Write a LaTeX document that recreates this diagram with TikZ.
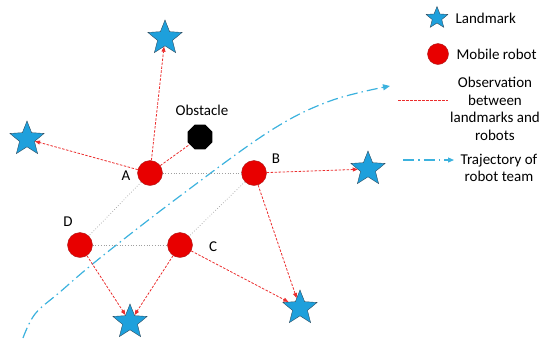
\documentclass[tikz,border=0pt]{standalone}
\usepackage{fontspec}
\setmainfont{Carlito}
\usepackage{xcolor}
\usepackage{tikz}
\usetikzlibrary{arrows.meta,positioning,calc,shapes.geometric}

\definecolor{lmblue}{RGB}{30,160,220}
\definecolor{lmedge}{RGB}{45,75,95}
\definecolor{robred}{RGB}{232,0,0}
\definecolor{robedge}{RGB}{170,25,25}
\definecolor{obsred}{RGB}{235,45,45}
\definecolor{trajblue}{RGB}{60,178,222}

\begin{document}
\begin{tikzpicture}[x=1pt,y=-1pt,
    landmark/.style={star,star points=5,star point ratio=2.3,draw=lmedge,
      fill=lmblue,minimum size=36pt,inner sep=0pt},
    robot/.style={circle,draw=robedge,fill=robred,minimum size=25pt,inner sep=0pt},
    obsline/.style={draw=obsred,line width=0.8pt,dash pattern=on 2.5pt off 1.5pt},
    obsarrow/.style={obsline,-{Triangle[length=5pt,width=4pt]}},
    link/.style={draw=gray!75,line width=0.7pt,dotted},
    traj/.style={draw=trajblue,line width=1.2pt,
      dash pattern=on 11pt off 4pt on 1.5pt off 4pt},
    lbl/.style={font=\fontsize{15}{17.5}\selectfont,align=center}
  ]
    \useasboundingbox (0,0) rectangle (541,341);

    % trajectory of the team
    \draw[traj,-{Triangle[length=7pt,width=6pt]}] plot[smooth,tension=0.6]
      coordinates {(23,338) (35,314) (60,292) (100,258) (180,196)
        (270,131) (330,101) (390,86)};

    % robots
    \node[robot] (A) at (150,173) {};
    \node[robot] (B) at (254,173) {};
    \node[robot] (C) at (180,245) {};
    \node[robot] (D) at (80,245) {};
    \node[lbl] (lA) at (126,176) {A};
    \node[lbl] (lB) at (276,159) {B};
    \node[lbl] (lC) at (213,247) {C};
    \node[lbl] (lD) at (68,222) {D};

    % landmarks and obstacle
    \node[landmark] (s1) at (165,38) {};
    \node[landmark] (s2) at (27,139) {};
    \node[landmark] (s3) at (368,169) {};
    \node[landmark] (s4) at (130,322) {};
    \node[landmark] (s5) at (300,308) {};
    \node[regular polygon,regular polygon sides=8,fill=black,
      minimum size=27pt,inner sep=0pt] (obst) at (200,137) {};
    \node[lbl] (lobst) at (202,110) {Obstacle};

    % links between robots
    \draw[link] (A) -- (B);
    \draw[link] (A) -- (D);
    \draw[link] (B) -- (C);
    \draw[link] (D) -- (C);

    % observations
    \draw[obsarrow] (A) -- (s1);
    \draw[obsarrow] (A) -- (s2);
    \draw[obsline] (A) -- (obst);
    \draw[obsarrow] (B) -- (s3);
    \draw[obsarrow] (B) -- (s5);
    \draw[obsarrow] (C) -- (s4);
    \draw[obsarrow] (C) -- (s5);
    \draw[obsarrow] (D) -- (s4);

    % legend
    \node[landmark,minimum size=23pt] (kstar) at (437,18) {};
    \node[lbl,anchor=west] (kstartxt) at (452,18) {Landmark};
    \node[robot,minimum size=21pt] (krob) at (438,54) {};
    \node[lbl,anchor=west] (krobtxt) at (453,54) {Mobile robot};
    \coordinate (kobs1) at (398,100);
    \coordinate (kobs2) at (448,100);
    \draw[obsline] (kobs1) -- (kobs2);
    \node[lbl] (kobstxt) at (495,109)
      {Observation\\between\\landmarks and\\robots};
    \coordinate (ktraj1) at (403,160);
    \coordinate (ktraj2) at (454,160);
    \draw[traj,-{Triangle[length=6pt,width=5pt]}] (ktraj1) -- (ktraj2);
    \node[lbl] (ktrajtxt) at (499,168) {Trajectory of\\robot team};
  \end{tikzpicture}
\end{document}
